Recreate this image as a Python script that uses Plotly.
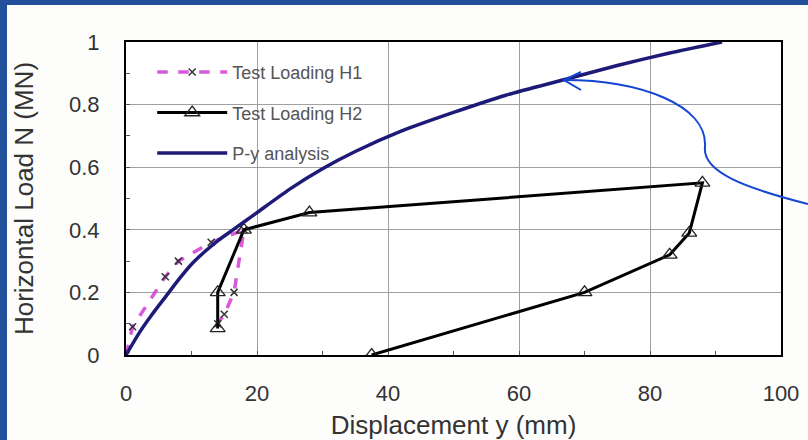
import plotly.graph_objects as go

# ---- data ----
py_x = [0, 2, 4, 6, 8, 10, 12, 14, 16, 18, 20, 25, 30, 35, 42, 50, 58, 67, 75, 83, 91]
py_y = [0, 0.07, 0.13, 0.185, 0.24, 0.29, 0.33, 0.365, 0.395, 0.425, 0.455, 0.53, 0.595,
        0.65, 0.715, 0.775, 0.83, 0.88, 0.925, 0.965, 1.0]

h1_x = [0, 1, 6, 8, 13, 18, 16.5, 15, 14]
h1_y = [0, 0.09, 0.25, 0.30, 0.36, 0.40, 0.20, 0.13, 0.10]

h2_x = [14, 14, 18, 28, 88, 86, 83, 70, 37.5]
h2_y = [0.085, 0.20, 0.40, 0.455, 0.55, 0.39, 0.32, 0.20, 0.0]

x_ticks = [0, 20, 40, 60, 80, 100]
y_ticks = [0, 0.2, 0.4, 0.6, 0.8, 1]
y_tick_text = ["0", "0.2", "0.4", "0.6", "0.8", "1"]

FONT = "Liberation Sans, Arial, sans-serif"
W, H = 808, 440
L, R, T, B = 126, 27, 42, 85
PW, PH = W - L - R, H - T - B


def px(x):
    return (x - L) / PW


def py(y):
    return (H - B - y) / PH


fig = go.Figure()

fig.add_trace(go.Scatter(
    x=h1_x, y=h1_y, name="Test Loading H1", mode="lines+markers",
    line=dict(color="rgba(210,60,210,0.85)", width=3.5, dash="dash"),
    marker=dict(symbol="x-thin-open", size=7, color="#333", line=dict(color="#333", width=1.5)),
    legendgroup="a",
))
fig.add_trace(go.Scatter(
    x=h2_x, y=h2_y, name="Test Loading H2", mode="lines+markers",
    line=dict(color="black", width=3),
    marker=dict(symbol="triangle-up-open", size=13, color="#222", line=dict(color="#222", width=1.3)),
    legendgroup="b",
))
fig.add_trace(go.Scatter(
    x=py_x, y=py_y, name="P-y analysis", mode="lines",
    line=dict(color="#1e1b78", width=3.5, shape="spline", smoothing=0.6),
    legendgroup="c",
))

shapes = [
    # blue frame strips (left and top)
    dict(type="rect", xref="paper", yref="paper", x0=px(0), x1=px(7), y0=py(H), y1=py(0),
         fillcolor="#23509a", line=dict(width=0), layer="above"),
    dict(type="rect", xref="paper", yref="paper", x0=px(0), x1=px(W), y0=py(5), y1=py(0),
         fillcolor="#23509a", line=dict(width=0), layer="above"),
]

# hand-drawn blue annotation arrow
pts = "M {a},{b} C {c},{d} {e},{f} {g},{h} C {i},{j} {k},{l} {m},{n}".format(
    a=px(808), b=py(204),
    c=px(745), d=py(188), e=px(702), f=py(172), g=px(705), h=py(147),
    i=px(708), j=py(105), k=px(640), l=py(80), m=px(564), n=py(80),
)
shapes.append(dict(type="path", xref="paper", yref="paper", path=pts,
                   line=dict(color="#1446d2", width=2), layer="above"))
head = "M {a},{b} L {c},{d} L {e},{f}".format(
    a=px(581), b=py(72), c=px(564), d=py(80), e=px(581), f=py(90))
shapes.append(dict(type="path", xref="paper", yref="paper", path=head,
                   line=dict(color="#1446d2", width=2), layer="above"))

fig.update_layout(
    width=W, height=H,
    margin=dict(l=L, r=R, t=T, b=B, autoexpand=False),
    paper_bgcolor="#fdfdfb",
    plot_bgcolor="white",
    font=dict(family=FONT, color="#333", size=16),
    showlegend=True,
    legend=dict(
        x=0.04, y=0.962, xanchor="left", yanchor="top",
        bgcolor="rgba(0,0,0,0)", font=dict(size=18, color="#555"),
        traceorder="grouped", tracegroupgap=14, itemwidth=70,
    ),
    shapes=shapes,
)

fig.update_xaxes(
    range=[0, 100], tickvals=x_ticks, ticktext=[str(v) for v in x_ticks],
    showgrid=True, gridcolor="#a0a0a0", gridwidth=1,
    showline=True, linecolor="black", linewidth=2, mirror=True,
    ticks="inside", ticklen=4, tickcolor="#555",
    minor=dict(dtick=10, ticks="inside", ticklen=4, tickcolor="#555", showgrid=False),
    zeroline=False, ticklabelstandoff=18, automargin=False,
    tickfont=dict(size=22, color="#333"),
    title=dict(text="Displacement y (mm)", font=dict(size=26, color="#333"), standoff=16),
)
fig.update_yaxes(
    range=[0, 1], tickvals=y_ticks, ticktext=y_tick_text,
    showgrid=True, gridcolor="#a0a0a0", gridwidth=1,
    showline=True, linecolor="black", linewidth=2, mirror=True,
    ticks="inside", ticklen=4, tickcolor="#555",
    minor=dict(dtick=0.1, ticks="inside", ticklen=4, tickcolor="#555", showgrid=False),
    zeroline=False, ticklabelstandoff=20, automargin=False,
    tickfont=dict(size=22, color="#333"),
    title=dict(text="Horizontal Load N (MN)", font=dict(size=26, color="#333"), standoff=28),
)

fig.write_html("out.html", post_script="document.body.style.margin='0';",
               config={"displayModeBar": False})
